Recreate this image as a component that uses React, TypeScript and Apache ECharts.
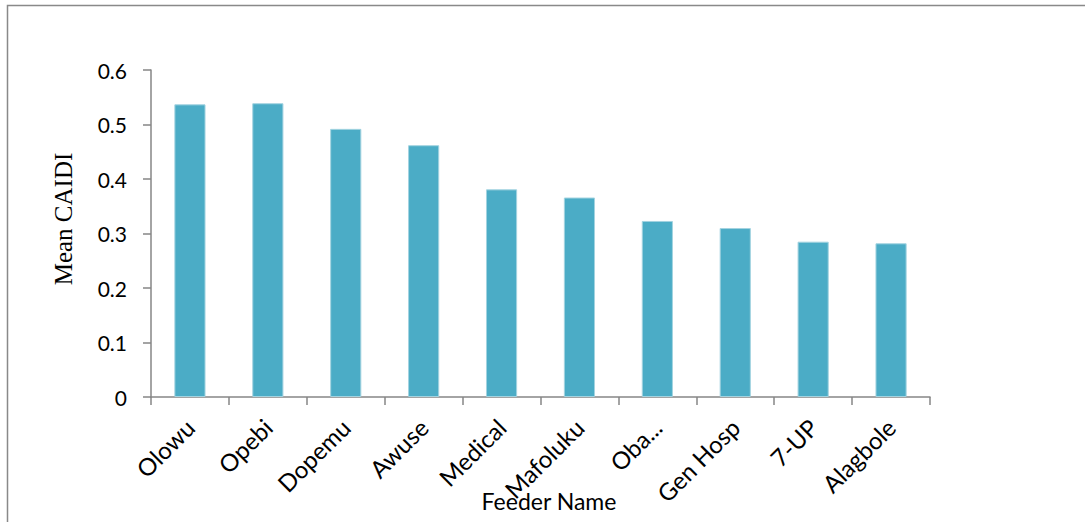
import React, { useEffect, useRef } from "react";
import * as echarts from "echarts";

const categories = ["Olowu", "Opebi", "Dopemu", "Awuse", "Medical", "Mafoluku", "Oba...", "Gen Hosp", "7-UP", "Alagbole"];
const meanCaidi = [0.537, 0.539, 0.492, 0.462, 0.381, 0.366, 0.323, 0.31, 0.285, 0.282];
const yTicks = { min: 0, max: 0.6, interval: 0.1 };

export default function App() {
  const ref = useRef<HTMLDivElement>(null);
  useEffect(() => {
    if (!ref.current) return;
    const chart = echarts.init(ref.current, null, { renderer: "svg" });
    const axisGray = "#868686";
    const sans = "Lato, 'Open Sans', sans-serif";
    chart.setOption({
      animation: false,
      backgroundColor: "#ffffff",
      grid: { left: 151, right: 155, top: 70, bottom: 125, containLabel: false },
      xAxis: {
        type: "category",
        data: categories,
        axisLine: { show: true, lineStyle: { color: axisGray, width: 1.5 } },
        axisTick: { show: true, length: 8, interval: 0, lineStyle: { color: axisGray, width: 1.5 } },
        axisLabel: {
          interval: 0,
          rotate: 45,
          margin: 26,
          color: "#000",
          fontFamily: sans,
          fontSize: 24,
        },
        splitLine: { show: false },
      },
      yAxis: {
        type: "value",
        min: yTicks.min,
        max: yTicks.max,
        interval: yTicks.interval,
        axisLine: { show: true, lineStyle: { color: axisGray, width: 1.5 } },
        axisTick: { show: true, length: 8, lineStyle: { color: axisGray, width: 1.5 } },
        axisLabel: {
          margin: 24,
          color: "#000",
          fontFamily: sans,
          fontSize: 21,
        },
        splitLine: { show: false },
      },
      graphic: [
        {
          type: "rect",
          shape: { x: 7.5, y: 5.5, width: 1200, height: 700 },
          style: { fill: "none", stroke: "#898989", lineWidth: 1.5 },
          silent: true,
        },
        {
          type: "text",
          x: 63,
          y: 219,
          rotation: Math.PI / 2,
          style: {
            text: "Mean CAIDI",
            fontFamily: "'Liberation Serif', 'Times New Roman', serif",
            fontSize: 25,
            fill: "#000",
            align: "center",
            verticalAlign: "middle",
          },
        },
        {
          type: "text",
          x: 549,
          y: 501,
          style: {
            text: "Feeder Name",
            fontFamily: sans,
            fontSize: 23,
            fill: "#000",
            align: "center",
            verticalAlign: "middle",
          },
        },
      ],
      series: [
        {
          type: "bar",
          data: meanCaidi,
          barWidth: "40%",
          itemStyle: { color: "#4BACC6", borderColor: "#A3D3E0", borderWidth: 1 },
        },
      ],
    });
    return () => chart.dispose();
  }, []);
  return (
    <div
      ref={ref}
      style={{ position: "fixed", left: 0, top: 0, width: 1085, height: 522, background: "#fff" }}
    />
  );
}
